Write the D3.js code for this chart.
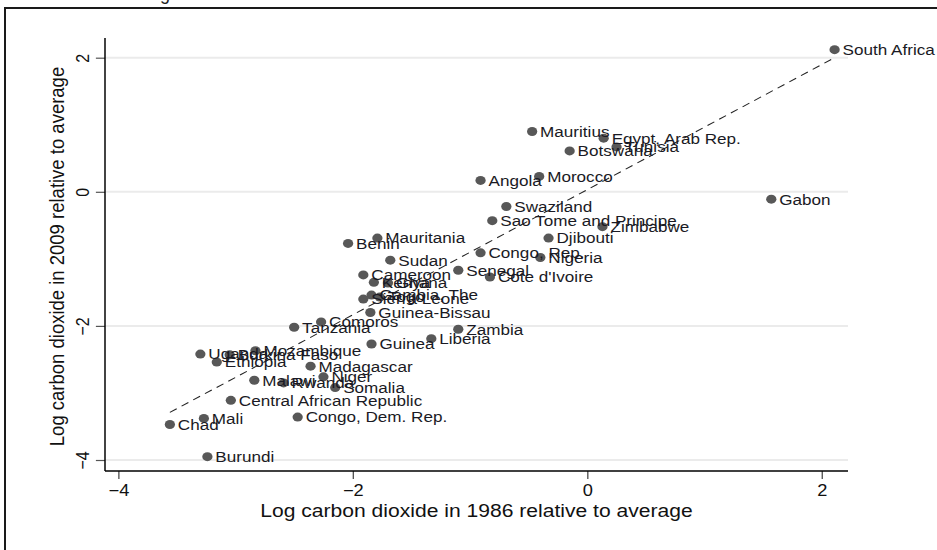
<!DOCTYPE html>
<html>
<head>
<meta charset="utf-8">
<script src="https://cdn.jsdelivr.net/npm/d3@7"></script>
<style>
  body { margin: 0; background: #fff; }
  svg { display: block; font-family: "Liberation Sans", Arial, Helvetica, sans-serif; }
</style>
</head>
<body>
<svg id="chart" width="937" height="550"></svg>
<script>
// Log CO2 emissions relative to the sample average, 1986 vs 2009
const countries = [
  "South Africa", "Gabon", "Mauritius", "Egypt, Arab Rep.", "Tunisia", "Botswana",
  "Morocco", "Angola", "Swaziland", "Sao Tome and Principe", "Zimbabwe", "Djibouti",
  "Congo, Rep.", "Nigeria", "Benin", "Mauritania", "Sudan", "Senegal", "Cote d'Ivoire",
  "Cameroon", "Kenya", "Ghana", "Gambia, The", "Togo", "Sierra Leone", "Guinea-Bissau",
  "Comoros", "Tanzania", "Zambia", "Liberia", "Guinea", "Uganda", "Burkina Faso",
  "Ethiopia", "Mozambique", "Madagascar", "Niger", "Malawi", "Rwanda", "Somalia",
  "Central African Republic", "Mali", "Chad", "Congo, Dem. Rep.", "Burundi"
];
const co2_1986 = [
  2.11, 1.57, -0.47, 0.14, 0.25, -0.15,
  -0.41, -0.91, -0.69, -0.81, 0.13, -0.33,
  -0.91, -0.40, -2.04, -1.79, -1.68, -1.10, -0.83,
  -1.91, -1.82, -1.70, -1.84, -1.77, -1.91, -1.85,
  -2.27, -2.50, -1.10, -1.33, -1.84, -3.30, -3.05,
  -3.16, -2.83, -2.36, -2.25, -2.84, -2.59, -2.15,
  -3.04, -3.27, -3.56, -2.47, -3.24
];
const co2_2009 = [
  2.12, -0.11, 0.90, 0.80, 0.67, 0.61,
  0.23, 0.17, -0.22, -0.43, -0.52, -0.69,
  -0.91, -0.98, -0.77, -0.69, -1.02, -1.17, -1.27,
  -1.24, -1.35, -1.36, -1.54, -1.57, -1.60, -1.80,
  -1.94, -2.02, -2.05, -2.19, -2.27, -2.42, -2.43,
  -2.54, -2.37, -2.60, -2.76, -2.81, -2.85, -2.92,
  -3.11, -3.38, -3.47, -3.36, -3.95
];

// Fitted line, drawn across the observed 1986 range
const fitX = [-3.56, 2.11];
const fitY = [-3.29, 2.00];

const xTicks = [-4, -2, 0, 2];
const yTicks = [-4, -2, 0, 2];
const xTitle = "Log carbon dioxide in 1986 relative to average";
const yTitle = "Log carbon dioxide in 2009 relative to average";

const stretch = 1.14;   // graph is laid out narrow, then widened
const svg = d3.select("#chart");

// outer frame
svg.append("rect")
  .attr("x", 5).attr("y", 8).attr("width", 940).attr("height", 560)
  .attr("fill", "#fff").attr("stroke", "#1a1a1a").attr("stroke-width", 2);

// clipped caption line above the frame
svg.append("text")
  .attr("x", 160).attr("y", 0)
  .attr("font-size", 18).attr("fill", "#222")
  .text("g");

const g = svg.append("g").attr("transform", `scale(${stretch},1)`);

const plotLeft = 105 / stretch, plotRight = 848 / stretch, plotTop = 38, plotBottom = 471;
const x = d3.scaleLinear().domain([-4, 2]).range([118.3 / stretch, 821.7 / stretch]);
const y = d3.scaleLinear().domain([-4, 2]).range([460, 57.7]);

// horizontal grid
g.append("g").selectAll("line").data(yTicks).join("line")
  .attr("x1", plotLeft).attr("x2", plotRight)
  .attr("y1", d => y(d)).attr("y2", d => y(d))
  .attr("stroke", "#ebebeb").attr("stroke-width", 2);

// axes
const xAxis = g.append("g").attr("transform", `translate(0,${plotBottom})`)
  .call(d3.axisBottom(x).tickValues(xTicks).tickSize(8).tickPadding(6).tickFormat(d3.format("d")));
const yAxis = g.append("g").attr("transform", `translate(${plotLeft},0)`)
  .call(d3.axisLeft(y).tickValues(yTicks).tickSize(8).tickFormat(d3.format("d")));
[xAxis, yAxis].forEach(a => {
  a.select(".domain").remove();
  a.selectAll(".tick line").attr("stroke", "#555").attr("stroke-width", 1.2);
  a.selectAll(".tick text").attr("fill", "#111").attr("font-size", 16).attr("font-family", null);
});
yAxis.selectAll(".tick text")
  .attr("x", null).attr("dy", null).attr("text-anchor", "middle")
  .attr("transform", "translate(-14,0) rotate(-90)");

g.append("line").attr("x1", plotLeft).attr("x2", plotLeft).attr("y1", plotTop).attr("y2", plotBottom)
  .attr("stroke", "#000").attr("stroke-width", 1.3);
g.append("line").attr("x1", plotLeft).attr("x2", plotRight).attr("y1", plotBottom).attr("y2", plotBottom)
  .attr("stroke", "#000").attr("stroke-width", 1.3);

// axis titles
g.append("text")
  .attr("x", (plotLeft + plotRight) / 2).attr("y", 517)
  .attr("text-anchor", "middle").attr("font-size", 18.5).attr("fill", "#111")
  .text(xTitle);
g.append("text")
  .attr("transform", `translate(${63.5 / stretch},${(plotTop + plotBottom) / 2 + 2}) rotate(-90)`)
  .attr("text-anchor", "middle").attr("font-size", 18.5).attr("fill", "#111")
  .text(yTitle);

// fitted line
const line = d3.line().x(d => x(d[0])).y(d => y(d[1]));
g.append("path")
  .datum(fitX.map((v, i) => [v, fitY[i]]))
  .attr("d", line)
  .attr("fill", "none").attr("stroke", "#222").attr("stroke-width", 1)
  .attr("stroke-dasharray", "7 5");

// markers and labels
const idx = d3.range(countries.length);
g.append("g").selectAll("circle").data(idx).join("circle")
  .attr("cx", i => x(co2_1986[i])).attr("cy", i => y(co2_2009[i]))
  .attr("r", 4.5).attr("fill", "#585858");
g.append("g").selectAll("text").data(idx).join("text")
  .attr("x", i => x(co2_1986[i]) + 7).attr("y", i => y(co2_2009[i]))
  .attr("dy", "0.36em").attr("font-size", 15).attr("fill", "#1a1a24")
  .text(i => countries[i]);
</script>
</body>
</html>
